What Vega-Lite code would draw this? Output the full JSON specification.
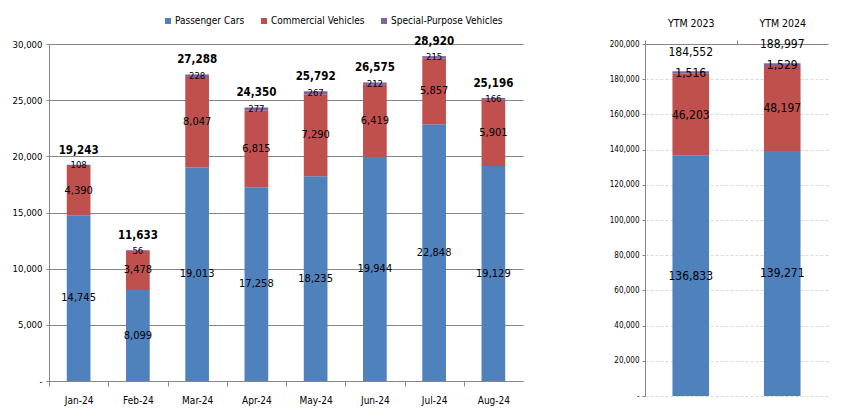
{
  "$schema": "https://vega.github.io/schema/vega-lite/v6.json",
  "background": "white",
  "padding": {"left": 12, "top": 16, "right": 20, "bottom": 4},
  "spacing": 86,
  "config": {
    "font": "DejaVu Sans Condensed, Liberation Sans, sans-serif",
    "view": {"stroke": null},
    "axis": {"labelColor": "#000", "title": null, "labelFont": "DejaVu Sans Condensed, Liberation Sans, sans-serif"},
    "text": {"font": "DejaVu Sans Condensed, Liberation Sans, sans-serif", "color": "#000"}
  },
  "resolve": {"scale": {"color": "independent"}},
  "datasets": {
    "monthly": [
      {"m": "Jan-24", "c": "Passenger Cars", "k": 1, "v": 14745},
      {"m": "Jan-24", "c": "Commercial Vehicles", "k": 2, "v": 4390},
      {"m": "Jan-24", "c": "Special-Purpose Vehicles", "k": 3, "v": 108},
      {"m": "Feb-24", "c": "Passenger Cars", "k": 1, "v": 8099},
      {"m": "Feb-24", "c": "Commercial Vehicles", "k": 2, "v": 3478},
      {"m": "Feb-24", "c": "Special-Purpose Vehicles", "k": 3, "v": 56},
      {"m": "Mar-24", "c": "Passenger Cars", "k": 1, "v": 19013},
      {"m": "Mar-24", "c": "Commercial Vehicles", "k": 2, "v": 8047},
      {"m": "Mar-24", "c": "Special-Purpose Vehicles", "k": 3, "v": 228},
      {"m": "Apr-24", "c": "Passenger Cars", "k": 1, "v": 17258},
      {"m": "Apr-24", "c": "Commercial Vehicles", "k": 2, "v": 6815},
      {"m": "Apr-24", "c": "Special-Purpose Vehicles", "k": 3, "v": 277},
      {"m": "May-24", "c": "Passenger Cars", "k": 1, "v": 18235},
      {"m": "May-24", "c": "Commercial Vehicles", "k": 2, "v": 7290},
      {"m": "May-24", "c": "Special-Purpose Vehicles", "k": 3, "v": 267},
      {"m": "Jun-24", "c": "Passenger Cars", "k": 1, "v": 19944},
      {"m": "Jun-24", "c": "Commercial Vehicles", "k": 2, "v": 6419},
      {"m": "Jun-24", "c": "Special-Purpose Vehicles", "k": 3, "v": 212},
      {"m": "Jul-24", "c": "Passenger Cars", "k": 1, "v": 22848},
      {"m": "Jul-24", "c": "Commercial Vehicles", "k": 2, "v": 5857},
      {"m": "Jul-24", "c": "Special-Purpose Vehicles", "k": 3, "v": 215},
      {"m": "Aug-24", "c": "Passenger Cars", "k": 1, "v": 19129},
      {"m": "Aug-24", "c": "Commercial Vehicles", "k": 2, "v": 5901},
      {"m": "Aug-24", "c": "Special-Purpose Vehicles", "k": 3, "v": 166}
    ],
    "ytm": [
      {"m": "YTM 2023", "c": "Passenger Cars", "k": 1, "v": 136833},
      {"m": "YTM 2023", "c": "Commercial Vehicles", "k": 2, "v": 46203},
      {"m": "YTM 2023", "c": "Special-Purpose Vehicles", "k": 3, "v": 1516},
      {"m": "YTM 2024", "c": "Passenger Cars", "k": 1, "v": 139271},
      {"m": "YTM 2024", "c": "Commercial Vehicles", "k": 2, "v": 48197},
      {"m": "YTM 2024", "c": "Special-Purpose Vehicles", "k": 3, "v": 1529}
    ]
  },
  "hconcat": [
    {
      "width": 474,
      "height": 337,
      "data": {"name": "monthly"},
      "transform": [
        {"stack": "v", "groupby": ["m"], "sort": [{"field": "k"}], "as": ["v0", "v1"]},
        {"calculate": "(datum.v0 + datum.v1) / 2", "as": "mid"}
      ],
      "encoding": {
        "x": {
          "field": "m", "type": "nominal",
          "sort": ["Jan-24", "Feb-24", "Mar-24", "Apr-24", "May-24", "Jun-24", "Jul-24", "Aug-24"],
          "scale": {"paddingInner": 0.6, "paddingOuter": 0.3},
          "axis": {
            "labelAngle": 0, "domainColor": "#868686", "tickColor": "#868686",
            "tickSize": 5, "tickOffset": -29.6, "labelOffset": 29.6,
            "labelPadding": 9, "labelFontSize": 10
          }
        },
        "y": {
          "field": "v0", "type": "quantitative",
          "scale": {"domain": [0, 30000], "nice": false},
          "axis": {
            "values": [0, 5000, 10000, 15000, 20000, 25000, 30000],
            "tickCount": 20,
            "labelExpr": "datum.value == 0 ? '-' : format(datum.value, ',')",
            "labelOverlap": false,
            "domainColor": "#868686", "tickColor": "#868686", "tickSize": 3,
            "gridColor": "#868686", "gridOpacity": 1, "labelFontSize": 9.5, "labelPadding": 4
          }
        }
      },
      "layer": [
        {
          "mark": {"type": "bar"},
          "encoding": {
            "y2": {"field": "v1"},
            "color": {
              "field": "c", "type": "nominal",
              "scale": {
                "domain": ["Passenger Cars", "Commercial Vehicles", "Special-Purpose Vehicles"],
                "range": ["#4F81BD", "#C0504D", "#8064A2"]
              },
              "legend": {
                "title": null, "orient": "none", "direction": "horizontal",
                "legendX": 114, "legendY": -28,
                "symbolType": "square", "symbolSize": 36, "symbolStrokeWidth": 0,
                "labelFontSize": 10, "labelColor": "#000", "columnPadding": 14, "labelOffset": 2
              }
            }
          }
        },
        {
          "mark": {"type": "text", "baseline": "middle"},
          "encoding": {
            "y": {"field": "mid", "type": "quantitative"},
            "text": {"field": "v", "type": "quantitative", "format": ","},
            "size": {"condition": {"test": "datum.k == 3", "value": 9.5}, "value": 11}
          }
        },
        {
          "transform": [{"aggregate": [{"op": "sum", "field": "v", "as": "total"}], "groupby": ["m"]}],
          "mark": {"type": "text", "baseline": "middle", "dy": -14, "fontWeight": "bold", "fontSize": 11.5},
          "encoding": {
            "y": {"field": "total", "type": "quantitative"},
            "text": {"field": "total", "type": "quantitative", "format": ","}
          }
        }
      ]
    },
    {
      "width": 183,
      "height": 352,
      "data": {"name": "ytm"},
      "transform": [
        {"stack": "v", "groupby": ["m"], "sort": [{"field": "k"}], "as": ["v0", "v1"]},
        {"calculate": "(datum.v0 + datum.v1) / 2", "as": "mid"}
      ],
      "encoding": {
        "x": {
          "field": "m", "type": "nominal",
          "sort": ["YTM 2023", "YTM 2024"],
          "scale": {"paddingInner": 0.6, "paddingOuter": 0.3},
          "axis": {
            "orient": "top", "labelAngle": 0, "domainColor": "#868686", "tickColor": "#868686",
            "tickSize": 4, "tickOffset": -45.75, "labelOffset": 45.75,
            "labelPadding": 12, "labelFontSize": 10.5
          }
        },
        "y": {
          "field": "v0", "type": "quantitative",
          "scale": {"domain": [0, 200000], "nice": false},
          "axis": {
            "values": [0, 20000, 40000, 60000, 80000, 100000, 120000, 140000, 160000, 180000, 200000],
            "tickCount": 20,
            "labelExpr": "datum.value == 0 ? '-' : format(datum.value, ',')",
            "labelOverlap": false,
            "domainColor": "#868686", "tickColor": "#868686", "tickSize": 3,
            "gridColor": "#d9d9d9", "gridDash": [3, 2], "gridOpacity": 1,
            "labelFontSize": 8, "labelPadding": 3
          }
        }
      },
      "layer": [
        {
          "mark": {"type": "bar"},
          "encoding": {
            "y2": {"field": "v1"},
            "color": {
              "field": "c", "type": "nominal",
              "scale": {
                "domain": ["Passenger Cars", "Commercial Vehicles", "Special-Purpose Vehicles"],
                "range": ["#4F81BD", "#C0504D", "#8064A2"]
              },
              "legend": null
            }
          }
        },
        {
          "mark": {"type": "text", "baseline": "middle", "fontSize": 12},
          "encoding": {
            "y": {"field": "mid", "type": "quantitative"},
            "text": {"field": "v", "type": "quantitative", "format": ","}
          }
        },
        {
          "transform": [{"aggregate": [{"op": "sum", "field": "v", "as": "total"}], "groupby": ["m"]}],
          "mark": {"type": "text", "baseline": "middle", "dy": -19, "fontSize": 12},
          "encoding": {
            "y": {"field": "total", "type": "quantitative"},
            "text": {"field": "total", "type": "quantitative", "format": ","}
          }
        }
      ]
    }
  ]
}
